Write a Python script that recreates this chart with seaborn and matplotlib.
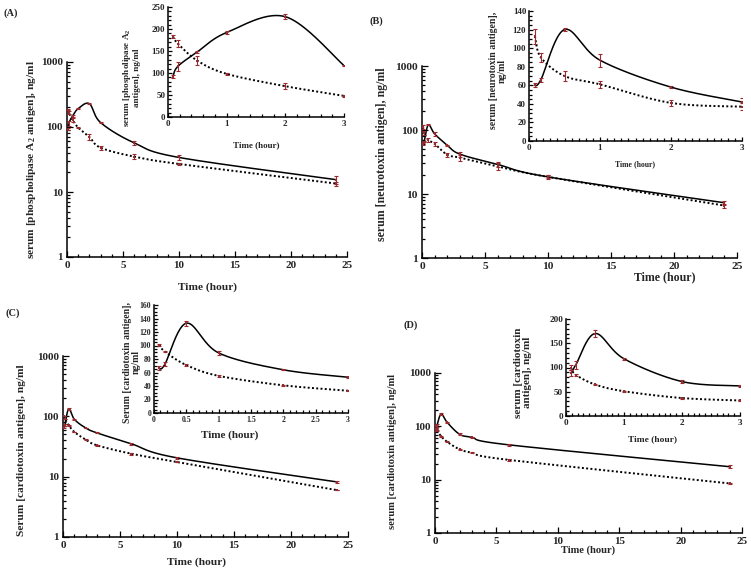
import numpy as np
import pandas as pd
import matplotlib
matplotlib.use("Agg")
import matplotlib.pyplot as plt
import seaborn as sns
from matplotlib.ticker import MultipleLocator, FixedLocator, NullFormatter, LogLocator, FuncFormatter

sns.set_theme(style="ticks")
plt.rcParams['font.family'] = ['Liberation Serif', 'DejaVu Serif']
plt.rcParams['font.weight'] = 'bold'
plt.rcParams['axes.labelweight'] = 'bold'
plt.rcParams['mathtext.fontset'] = 'custom'
plt.rcParams['mathtext.rm'] = 'Liberation Serif:bold'
plt.rcParams['mathtext.it'] = 'Liberation Serif:bold'
plt.rcParams['mathtext.bf'] = 'Liberation Serif:bold'

# ---------------- data ----------------
time_abc = [0.083, 0.167, 0.5, 1, 2, 3, 6, 10, 24]
time_d = [0.083, 0.167, 0.5, 1, 2, 3, 6, 24]

# Panel A: phospholipase A2 antigen
a_solid = [92, 115, 148, 192, 228, 117, 57, 34, 15.5]
a_solid_err = [3, 10, 3, 3, 5, 2, 4, 3, 2]
a_dot = [183, 167, 128, 98, 70, 48, 35, 27, 13.5]
a_dot_err = [3, 8, 10, 2, 7, 3, 3, 1, 1]

# Panel B: neurotoxin antigen
b_solid = [60, 66, 120, 87, 58, 42, 29, 18.5, 7.3]
b_solid_err = [2, 2, 2, 7, 1, 4, 3, 1, 0.5]
b_dot = [113, 90, 70, 61, 41, 37, 27, 18.5, 6.6]
b_dot_err = [8, 5, 5, 4, 3, 4, 3, 1.5, 0.5]

# Panel C: cardiotoxin antigen
c_solid = [66, 72, 133, 89, 64, 53, 35, 20.5, 8.2]
c_solid_err = [3, 3, 4, 3, 1, 1, 1, 0.5, 0.2]
c_dot = [101, 91, 71, 55, 41, 33, 24, 17.5, 6.0]
c_dot_err = [1, 1, 1, 1, 0.5, 0.5, 1, 0.3, 0.1]

# Panel D: cardiotoxin antigen
d_solid = [88, 105, 170, 118, 71, 62, 45, 17.5]
d_solid_err = [6, 8, 8, 2, 3, 2, 2, 1]
d_dot = [100, 85, 65, 51, 37, 32, 23.5, 8.5]
d_dot_err = [6, 2, 1, 1, 1, 1, 1, 0.3]

ERR_COLOR = '#9b2a2e'
W, H = 751, 572


def rect(l, r, t, b):
    return [l / W, (H - b) / H, (r - l) / W, (b - t) / H]


def smooth(x, y, n=40):
    P = np.column_stack([np.asarray(x, float), np.asarray(y, float)])
    out = []
    for i in range(len(P) - 1):
        p0 = P[i - 1] if i > 0 else P[i]
        p1, p2 = P[i], P[i + 1]
        p3 = P[i + 2] if i + 2 < len(P) else P[i + 1]
        c1 = p1 + (p2 - p0) / 6
        c2 = p2 - (p3 - p1) / 6
        t = np.linspace(0, 1, n)[:, None]
        seg = (1 - t) ** 3 * p1 + 3 * (1 - t) ** 2 * t * c1 + 3 * (1 - t) * t ** 2 * c2 + t ** 3 * p2
        out.append(seg if i == 0 else seg[1:])
    return np.vstack(out)


def draw_series(ax, t, v, e, style, log):
    if log:
        s = smooth(t, np.log10(v))
        df = pd.DataFrame({'t': s[:, 0], 'v': 10 ** s[:, 1]})
    else:
        s = smooth(t, v)
        df = pd.DataFrame({'t': s[:, 0], 'v': s[:, 1]})
    if style == 'solid':
        sns.lineplot(data=df, x='t', y='v', ax=ax, sort=False, color='black', lw=1.1,
                     estimator=None, zorder=2)
    else:
        sns.lineplot(data=df, x='t', y='v', ax=ax, sort=False, color='black', lw=1.4,
                     estimator=None, zorder=2, linestyle=(0, (1, 1.2)))
    ax.errorbar(t, v, yerr=e, fmt='none', ecolor=ERR_COLOR, elinewidth=0.8, capsize=1.6,
                capthick=0.8, zorder=3)
    sns.scatterplot(x=t, y=v, ax=ax, marker='s', s=4, color=ERR_COLOR, edgecolor=ERR_COLOR,
                    linewidth=0, zorder=4)


def style_axes(ax):
    for sp in ['top', 'right']:
        ax.spines[sp].set_visible(False)
    for sp in ['left', 'bottom']:
        ax.spines[sp].set_color('black')
        ax.spines[sp].set_linewidth(1.1)
    ax.set_facecolor('white')
    ax.tick_params(which='both', direction='in', color='black', width=0.9)
    ax.tick_params(which='major', length=4, pad=3)
    ax.tick_params(which='minor', length=2.5)


def place_labels(ax, ylc, xlc):
    ax.yaxis.set_label_coords(*ylc)
    ax.xaxis.set_label_coords(*xlc)
    ax.yaxis.label.set_verticalalignment('center')
    ax.xaxis.label.set_verticalalignment('center')


def main_axes(fig, r, times, sol, sole, dot, dote, ylabel, fs_tick, fs_lab, ylc, xlc):
    ax = fig.add_axes(r)
    draw_series(ax, times, sol, sole, 'solid', True)
    draw_series(ax, times, dot, dote, 'dot', True)
    ax.set_yscale('log')
    ax.set_ylim(1, 1000)
    ax.set_xlim(0, 25)
    ax.xaxis.set_major_locator(MultipleLocator(5))
    ax.xaxis.set_minor_locator(MultipleLocator(1))
    ax.yaxis.set_major_locator(FixedLocator([1, 10, 100, 1000]))
    ax.yaxis.set_minor_locator(LogLocator(base=10, subs=np.arange(2, 10)))
    ax.yaxis.set_minor_formatter(NullFormatter())
    ax.yaxis.set_major_formatter(FuncFormatter(lambda v, p: f"{int(round(v))}"))
    style_axes(ax)
    for lab in ax.get_xticklabels() + ax.get_yticklabels():
        lab.set_fontsize(fs_tick)
        lab.set_fontweight('bold')
    ax.set_xlabel('Time (hour)', fontsize=fs_lab, fontweight='bold')
    ax.set_ylabel(ylabel, fontsize=fs_lab, fontweight='bold')
    place_labels(ax, ylc, xlc)
    return ax


def inset_axes(fig, r, times, sol, sole, dot, dote, ylabel, ymax, ymaj, ymin, xmaj, xmin,
               fs_tick, fs_ylab, fs_xlab, ylc, xlc, xfmt=None):
    ax = fig.add_axes(r)
    k = [i for i, tt in enumerate(times) if tt <= 3]
    tt = [times[i] for i in k]
    draw_series(ax, tt, [sol[i] for i in k], [sole[i] for i in k], 'solid', False)
    draw_series(ax, tt, [dot[i] for i in k], [dote[i] for i in k], 'dot', False)
    ax.set_xlim(0, 3)
    ax.set_ylim(0, ymax)
    ax.xaxis.set_major_locator(MultipleLocator(xmaj))
    ax.xaxis.set_minor_locator(MultipleLocator(xmin))
    ax.yaxis.set_major_locator(MultipleLocator(ymaj))
    ax.yaxis.set_minor_locator(MultipleLocator(ymin))
    if xfmt is None:
        ax.xaxis.set_major_formatter(FuncFormatter(lambda v, p: f"{int(round(v))}"))
    else:
        ax.xaxis.set_major_formatter(FuncFormatter(xfmt))
    ax.yaxis.set_major_formatter(FuncFormatter(lambda v, p: f"{int(round(v))}"))
    style_axes(ax)
    ax.tick_params(which='major', length=3, pad=2)
    ax.tick_params(which='minor', length=2)
    for lab in ax.get_xticklabels() + ax.get_yticklabels():
        lab.set_fontsize(fs_tick)
        lab.set_fontweight('bold')
    ax.set_xlabel('Time (hour)', fontsize=fs_xlab, fontweight='bold')
    ax.set_ylabel(ylabel, fontsize=fs_ylab, fontweight='bold', linespacing=1.0)
    place_labels(ax, ylc, xlc)
    return ax


fig = plt.figure(figsize=(7.51, 5.72), dpi=100)
fig.patch.set_facecolor('white')

# ---- Panel A ----
main_axes(fig, rect(67, 347, 62, 257), time_abc, a_solid, a_solid_err, a_dot, a_dot_err,
          'serum [phospholipase A$_2$ antigen], ng/ml', 8, 8.2, (-0.125, 0.5), (0.5, -0.155))
inset_axes(fig, rect(168, 344, 7, 117), time_abc, a_solid, a_solid_err, a_dot, a_dot_err,
           'serum [phospholipase A$_2$\nantigen], ng/ml', 250, 50, 10, 1, 0.2,
           6.5, 6.6, 6.5, (-0.21, 0.36), (0.5, -0.26))

# ---- Panel B ----
main_axes(fig, rect(422, 737, 66, 258), time_abc, b_solid, b_solid_err, b_dot, b_dot_err,
          'serum [neurotoxin antigen], ng/ml', 8.2, 8.6, (-0.127, 0.54), (0.77, -0.1))
inset_axes(fig, rect(529, 742, 11, 141), time_abc, b_solid, b_solid_err, b_dot, b_dot_err,
           'serum [neurotoxin antigen],\nng/ml', 140, 20, 5, 1, 0.1,
           6.5, 7.0, 5.6, (-0.146, 0.54), (0.5, -0.177))

# ---- Panel C ----
main_axes(fig, rect(63, 348, 356, 537), time_abc, c_solid, c_solid_err, c_dot, c_dot_err,
          'Serum [cardiotoxin antigen], ng/ml', 8, 8.2, (-0.144, 0.48), (0.467, -0.138))
inset_axes(fig, rect(154, 348, 305, 413), time_abc, c_solid, c_solid_err, c_dot, c_dot_err,
           'Serum [cardiotoxin antigen],\nng/ml', 160, 20, 5, 0.5, 0.1,
           5.6, 7.0, 8.0, (-0.113, 0.47), (0.39, -0.21),
           xfmt=lambda v, p: (f"{v:.1f}" if abs(v - round(v)) > 1e-6 else f"{int(round(v))}"))

# ---- Panel D ----
main_axes(fig, rect(435, 742, 373, 533), time_d, d_solid, d_solid_err, d_dot, d_dot_err,
          'serum [cardiotoxin antigen], ng/ml', 8, 7.6, (-0.14, 0.51), (0.5, -0.106))
inset_axes(fig, rect(566, 740, 319, 416), time_d, d_solid, d_solid_err, d_dot, d_dot_err,
           'serum [cardiotoxin\nantigen], ng/ml', 200, 50, 10, 1, 0.1,
           6.6, 8.0, 6.8, (-0.245, 0.45), (0.5, -0.237))

# panel letters
for lbl, x, y in [('(A)', 3, 13), ('(B)', 370, 21), ('(C)', 5, 313), ('(D)', 403, 325)]:
    fig.text(x / W, 1 - y / H, lbl, fontsize=7.5, fontweight='bold', va='center', ha='left')

fig.savefig('out.png', dpi=100)
